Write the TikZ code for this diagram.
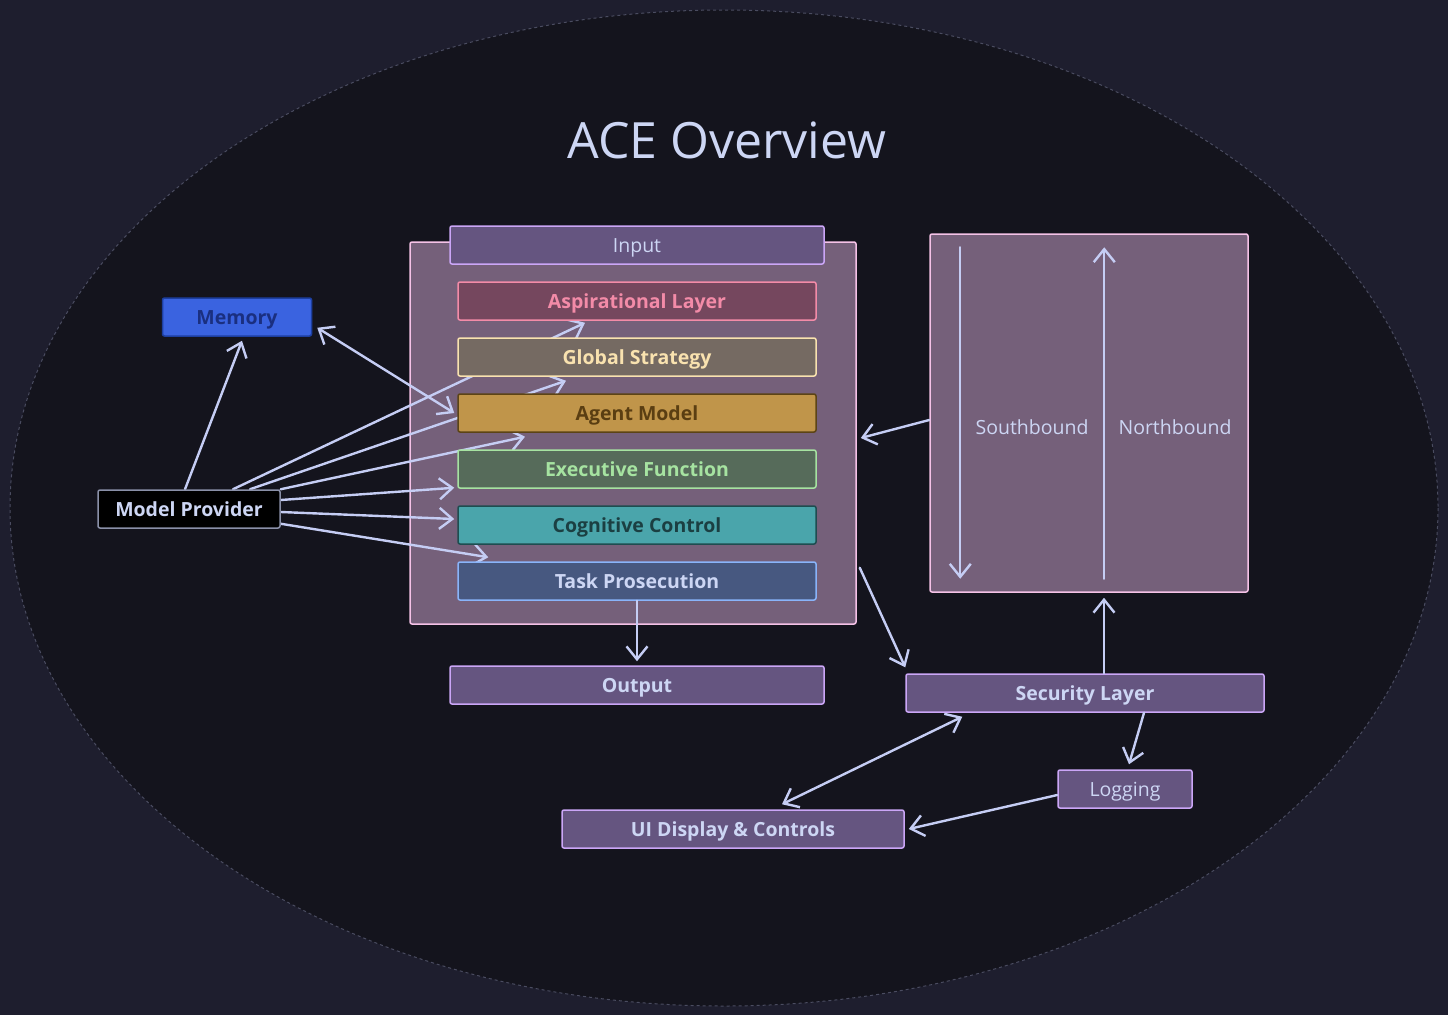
\documentclass[tikz,border=0pt]{standalone}
\usepackage{fontspec}
\setmainfont{Open Sans}
\usetikzlibrary{positioning,calc,arrows.meta}

\definecolor{pagebg}{HTML}{1E1E2E}
\definecolor{ovalbg}{HTML}{14141D}
\definecolor{ovaledge}{HTML}{4A4C60}
\definecolor{fgtext}{HTML}{CDD6F4}
\definecolor{arrowc}{HTML}{C5CDF4}
\definecolor{grpfill}{HTML}{75607A}
\definecolor{grpedge}{HTML}{F5C2E7}
\definecolor{boxfill}{HTML}{655580}
\definecolor{boxedge}{HTML}{CBA6F7}
\definecolor{aspfill}{HTML}{75475E}
\definecolor{aspedge}{HTML}{F38BA8}
\definecolor{gsfill}{HTML}{756A62}
\definecolor{gsedge}{HTML}{F9E2AF}
\definecolor{amfill}{HTML}{C0954A}
\definecolor{amedge}{HTML}{5C4416}
\definecolor{amtext}{HTML}{5A3E12}
\definecolor{effill}{HTML}{566B5A}
\definecolor{efedge}{HTML}{A6E3A1}
\definecolor{ccfill}{HTML}{4AA5AB}
\definecolor{ccedge}{HTML}{1E4D50}
\definecolor{cctext}{HTML}{1B3F42}
\definecolor{tpfill}{HTML}{475880}
\definecolor{tpedge}{HTML}{89B4FA}
\definecolor{memfill}{HTML}{3A63E0}
\definecolor{memedge}{HTML}{1D3FA0}
\definecolor{memtext}{HTML}{1A2F80}
\definecolor{mpedge}{HTML}{8A90A8}

\pgfdeclarelayer{bg}
\pgfdeclarelayer{edges}
\pgfsetlayers{bg,edges,main}

\tikzset{
  box/.style={draw, line width=1.5pt, rounded corners=2pt, minimum height=38pt,
    inner sep=0pt, text height=14pt, text depth=0pt, text=fgtext,
    font=\bfseries\fontsize{19.5}{22}\selectfont},
  lyr/.style={box, minimum width=358pt},
  plainbox/.style={box, fill=boxfill, draw=boxedge},
  grp/.style={draw=grpedge, fill=grpfill, line width=1.5pt, rounded corners=2pt, inner sep=0pt},
  lbl/.style={text=fgtext, font=\fontsize{19.5}{22}\selectfont},
  arr/.style={draw=arrowc, line width=2.4pt, line cap=round,
    -{Straight Barb[length=13pt,width=21pt,line width=2.4pt]}},
  darr/.style={arr, {Straight Barb[length=13pt,width=21pt,line width=2.4pt]}-{Straight Barb[length=13pt,width=21pt,line width=2.4pt]}},
}

\begin{document}
\begin{tikzpicture}[x=1pt, y=-1pt]
  \useasboundingbox (0,0) rectangle (1448,1015);

  \begin{pgfonlayer}{bg}
    \fill[pagebg] (0,0) rectangle (1448,1015);
    \draw[ovaledge, fill=ovalbg, dashed, line width=1pt] (724,508) ellipse [x radius=714, y radius=498];
    \node[grp, minimum width=446pt, minimum height=382pt] (outer) at (633,433) {};
    \node[grp, minimum width=318pt, minimum height=358pt] (rc) at (1089,413) {};
  \end{pgfonlayer}

  \node[text=fgtext, font=\fontsize{50}{56}\selectfont] (title) at (727,140) {ACE Overview};

  % the layer stack
  \node[plainbox, minimum width=374pt, font=\fontsize{19.5}{22}\selectfont] (inp) at (637,245) {Input};
  \node[lyr, fill=aspfill, draw=aspedge, text=aspedge] (asp) at (637,301) {Aspirational Layer};
  \node[lyr, fill=gsfill, draw=gsedge, text=gsedge, below=16.5pt of asp] (gs) {Global Strategy};
  \node[lyr, fill=amfill, draw=amedge, text=amtext, below=16.5pt of gs] (am) {Agent Model};
  \node[lyr, fill=effill, draw=efedge, text=efedge, below=16.5pt of am] (ef) {Executive Function};
  \node[lyr, fill=ccfill, draw=ccedge, text=cctext, below=16.5pt of ef] (cc) {Cognitive Control};
  \node[lyr, fill=tpfill, draw=tpedge, below=16.5pt of cc] (tp) {Task Prosecution};
  \node[plainbox, minimum width=374pt] (outp) at (637,685) {Output};

  \node[box, minimum width=149pt, fill=memfill, draw=memedge, text=memtext] (mem) at (237,317) {Memory};
  \node[box, minimum width=182pt, fill=black, draw=mpedge] (mp) at (189,509) {Model Provider};

  \node[plainbox, minimum width=358pt] (sec) at (1085,693) {Security Layer};
  \node[plainbox, minimum width=134pt, font=\fontsize{19.5}{22}\selectfont] (log) at (1125,789) {Logging};
  \node[plainbox, minimum width=342pt] (ui) at (733,829) {UI Display \& Controls};

  % north / south inside the right box
  \coordinate (sb1) at ([xshift=31pt,yshift=-14pt]rc.north west);
  \coordinate (sb2) at ([xshift=31pt,yshift=14pt]rc.south west);
  \coordinate (nb1) at ([xshift=175pt,yshift=14pt]rc.south west);
  \coordinate (nb2) at ([xshift=175pt,yshift=-14pt]rc.north west);
  \node[lbl] (sbl) at (1032,427) {Southbound};
  \node[lbl] (nbl) at (1175,427) {Northbound};
  \draw[arr] (sb1) -- (sb2);
  \draw[arr] (nb1) -- (nb2);

  \begin{pgfonlayer}{edges}
    \draw[arr] ([xshift=44pt]mp.north) -- ([xshift=-52pt,yshift=-2pt]asp.south);
    \draw[arr] ([xshift=61pt]mp.north) -- ([xshift=-71pt,yshift=-4pt]gs.south);
    \draw[arr] (mp.north east) -- ([xshift=-112pt,yshift=-4pt]am.south);
    \draw[arr] ([yshift=9pt]mp.east) -- ([xshift=-3pt,yshift=1pt]ef.south west);
    \draw[arr] ([yshift=-3pt]mp.east) -- ([xshift=-3pt,yshift=6pt]cc.west);
    \draw[arr] ([yshift=5pt]mp.south east) -- ([xshift=31pt,yshift=4pt]tp.north west);
    \draw[arr] ([xshift=-4pt]mp.north) -- ([xshift=5pt,yshift=-4pt]mem.south);
    \draw[darr] ([xshift=5pt,yshift=9pt]mem.south east) -- ([xshift=-3pt]am.west);
  \end{pgfonlayer}

  \draw[arr] ([yshift=-7pt]rc.west) -- ([xshift=4pt,yshift=-5pt]outer.east);
  \draw[arr] ([xshift=3pt,yshift=57pt]outer.south east) -- ([yshift=6pt]sec.north west);
  \draw[arr] ([xshift=19pt]sec.north) -- ([xshift=15pt,yshift=-5pt]rc.south);
  \draw[arr] ([xshift=59pt]sec.south) -- ([xshift=4pt,yshift=5pt]log.north);
  \draw[darr] ([xshift=57pt,yshift=-4pt]sec.south west) -- ([xshift=49pt,yshift=5pt]ui.north);
  \draw[arr] ([yshift=-6pt]log.west) -- ([xshift=4pt]ui.east);
  \draw[arr] (tp.south) -- ([yshift=4pt]outp.north);
\end{tikzpicture}
\end{document}
